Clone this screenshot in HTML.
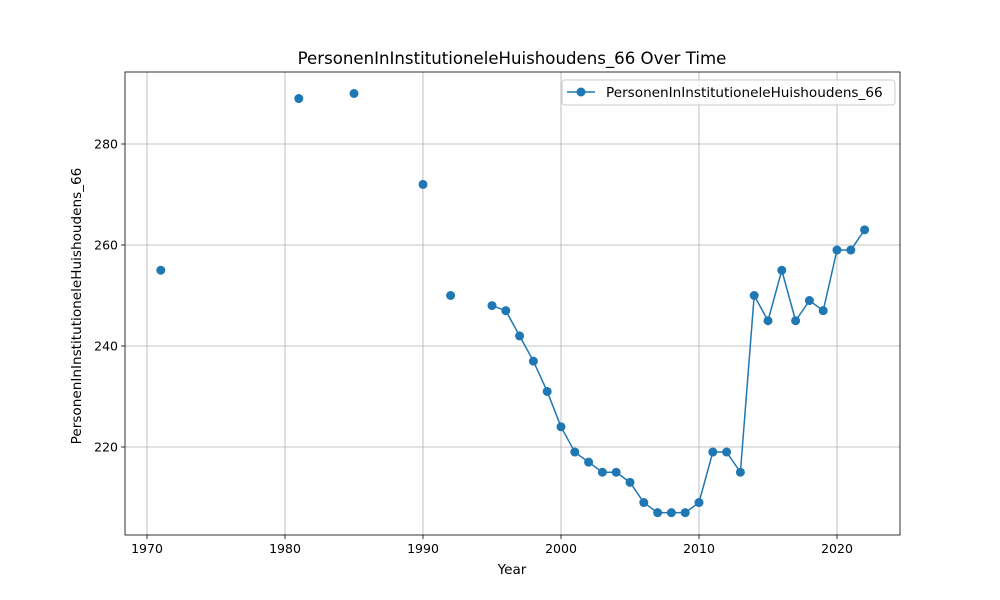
<!DOCTYPE html>
<html><head><meta charset="utf-8"><style>body{margin:0;background:#fff}svg{display:block;font-family:"DejaVu Sans","Liberation Sans",sans-serif}</style></head>
<body>
<svg id="chart" width="1000" height="600"></svg>
<script>
const years=[1971,1981,1985,1990,1992,1995,1996,1997,1998,1999,2000,2001,2002,2003,2004,2005,2006,2007,2008,2009,2010,2011,2012,2013,2014,2015,2016,2017,2018,2019,2020,2021,2022];
const values=[255,289,290,272,250,248,247,242,237,231,224,219,217,215,215,213,209,207,207,207,209,219,219,215,250,245,255,245,249,247,259,259,263];
const xTicks=[1970,1980,1990,2000,2010,2020];
const yTicks=[220,240,260,280];
const L=125,R=900,T=72,B=535;
const X=v=>147+(v-1970)*13.8;
const Y=v=>447-(v-220)*5.05;
const svg=document.getElementById('chart');
const NS='http://www.w3.org/2000/svg';
function mk(t,a,p){const e=document.createElementNS(NS,t);for(const k in a)e.setAttribute(k,a[k]);(p||svg).appendChild(e);return e;}
const title=mk('text',{x:512,y:64,'text-anchor':'middle','font-size':16.6});title.textContent='PersonenInInstitutioneleHuishoudens_66 Over Time';

const grid=mk('g',{});
xTicks.forEach(t=>{const x=X(t);
mk('line',{x1:x,x2:x,y1:T,y2:B,stroke:'#b0b0b0','stroke-width':0.8},grid);
mk('line',{x1:x,x2:x,y1:B,y2:B+4,stroke:'#000','stroke-width':0.8});
const tx=mk('text',{x:x,y:B+18,'text-anchor':'middle','font-size':12.5});tx.textContent=t;
});
yTicks.forEach(t=>{const y=Y(t);
mk('line',{x1:L,x2:R,y1:y,y2:y,stroke:'#b0b0b0','stroke-width':0.8},grid);
mk('line',{x1:L-4,x2:L,y1:y,y2:y,stroke:'#000','stroke-width':0.8});
const tx=mk('text',{x:L-7,y:y+4.5,'text-anchor':'end','font-size':12.5});tx.textContent=t;
});
const series=mk('g',{});
for(let i=1;i<years.length;i++){if(years[i]-years[i-1]===1){
const ln=mk('line',{x1:X(years[i-1]),y1:Y(values[i-1]),x2:X(years[i]),y2:Y(values[i]),stroke:'#1f77b4','stroke-width':1.5},series);
}}
years.forEach((yr,i)=>{const c=mk('circle',{cx:X(yr),cy:Y(values[i]),r:4.5,fill:'#1f77b4'},series);
});
const frame=mk('rect',{x:L,y:T,width:R-L,height:B-T,fill:'none',stroke:'#000','stroke-width':0.8});

const xl=mk('text',{x:512,y:574,'text-anchor':'middle','font-size':13.6});xl.textContent='Year';

const yl=mk('text',{x:81,y:306,'text-anchor':'middle','font-size':13.6,transform:'rotate(-90 81 306)'});yl.textContent='PersonenInInstitutioneleHuishoudens_66';

const lg=mk('g',{});
mk('rect',{x:562,y:80,width:333,height:25,rx:3,fill:'#fff','fill-opacity':0.8,stroke:'#ccc'},lg);
mk('line',{x1:567,x2:595,y1:92,y2:92,stroke:'#1f77b4','stroke-width':1.5},lg);
mk('circle',{cx:581,cy:92,r:4.5,fill:'#1f77b4'},lg);
const lt=mk('text',{x:606,y:97,'font-size':13.6},lg);lt.textContent='PersonenInInstitutioneleHuishoudens_66';

</script>
</body></html>
